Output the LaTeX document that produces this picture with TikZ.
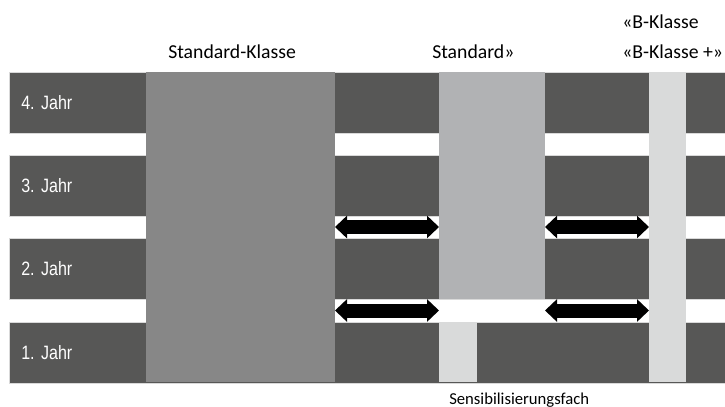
\documentclass[tikz,border=0pt]{standalone}
\usepackage{fontspec}
\setmainfont{Carlito}
\newfontfamily\jahrfont[FakeStretch=0.83]{Liberation Sans}
\usetikzlibrary{arrows.meta}
\definecolor{jahrgrau}{HTML}{575756}
\definecolor{stdklasse}{HTML}{878787}
\definecolor{standard}{HTML}{B1B2B4}
\definecolor{hellgrau}{HTML}{D9DADA}

\begin{document}
\frenchspacing
\begin{tikzpicture}[x=0.75pt,y=-0.75pt,
  zeile/.style={fill=jahrgrau,draw=black!15,line width=0.4pt,anchor=north west,
    minimum width=537pt,minimum height=45.75pt,inner xsep=9pt,text width=519pt,
    align=left,text=white,font=\jahrfont\fontsize{14.5}{17}\selectfont},
  spalte/.style={anchor=north west,inner sep=0pt,outer sep=0pt},
  titel/.style={anchor=base west,inner sep=0pt,font=\fontsize{14.8}{18}\selectfont},
  pfeil/.style={line width=10.5pt,
    {Triangle[width=16.5pt,length=9pt]}-{Triangle[width=16.5pt,length=9pt]}}]
\useasboundingbox (0,0) rectangle (725,407);

\node[zeile] (j4) at (9,72) {\raisebox{-1.5pt}{4. Jahr}};
\node[zeile] (j3) at (9,155) {\raisebox{-1.5pt}{3. Jahr}};
\node[zeile] (j2) at (9,238) {\raisebox{-1.5pt}{2. Jahr}};
\node[zeile] (j1) at (9,322) {\raisebox{-1.5pt}{1. Jahr}};

\node[spalte,fill=stdklasse,minimum width=141.75pt,minimum height=232.5pt] (skl) at (146,72) {};
\node[spalte,fill=standard,minimum width=79.5pt,minimum height=170.25pt] (std) at (439,72) {};
\node[spalte,fill=hellgrau,minimum width=28.5pt,minimum height=45pt] (sens) at (439,322) {};
\node[spalte,fill=hellgrau,minimum width=27.75pt,minimum height=232.5pt] (bkl) at (649,72) {};

\node[titel] (tskl) at (168,58) {Standard-Klasse};
\node[titel] (tstd) at (432,58) {Standard»};
\node[titel] (tb1) at (622,28) {«B-Klasse};
\node[titel] (tb2) at (622,58) {«B-Klasse +»};
\node[titel,font=\fontsize{12.5}{15}\selectfont] (tsens) at (449,404) {Sensibilisierungsfach};

\coordinate (f32) at (0,227);
\coordinate (f21) at (0,310.5);
\path[draw,pfeil] (skl.east |- f32) -- (std.west |- f32);
\path[draw,pfeil] (std.east |- f32) -- (bkl.west |- f32);
\path[draw,pfeil] (skl.east |- f21) -- (std.west |- f21);
\path[draw,pfeil] (std.east |- f21) -- (bkl.west |- f21);
\end{tikzpicture}
\end{document}
